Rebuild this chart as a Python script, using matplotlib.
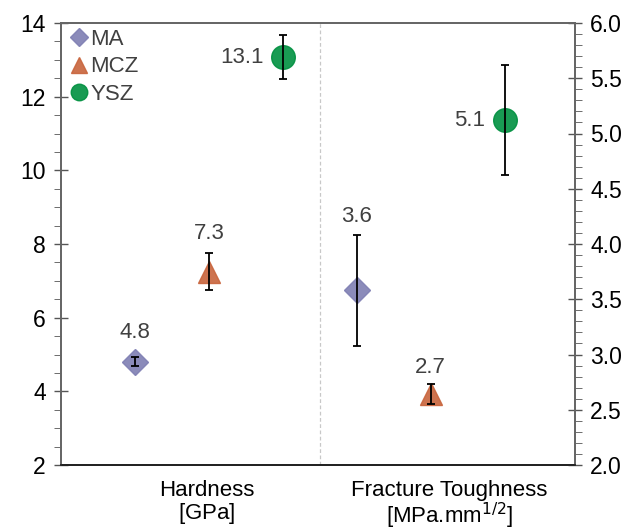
import numpy as np
import matplotlib.pyplot as plt
from matplotlib.ticker import MultipleLocator

materials = ['MA', 'MCZ', 'YSZ']
hardness = [4.8, 7.25, 13.07]
hardness_err = [0.12, 0.5, 0.6]
toughness = [3.58, 2.64, 5.12]
toughness_err = [0.5, 0.09, 0.5]
hardness_lbl = ['4.8', '7.3', '13.1']
toughness_lbl = ['3.6', '2.7', '5.1']
groups = ['Hardness\n[GPa]$^{\\,}$', 'Fracture Toughness\n[MPa.mm$^{1/2}$]']

colors = ['#7f7fb3', '#c8643c', '#009040']
markers = ['D', '^', 'o']
msizes = [13, 16, 17]
txt = '#404040'

plt.rcParams['font.family'] = ['Liberation Sans', 'DejaVu Sans']
plt.rcParams['font.size'] = 12

fig = plt.figure(figsize=(6.28, 5.30), dpi=100)
ax = fig.add_axes([61/628, 1-465/530, 514/628, 442/530])
ax2 = ax.twinx()

xh = np.array([1, 2, 3])
xt = np.array([4, 5, 6])

for i in range(3):
    ax.plot(xh[i], hardness[i], marker=markers[i], color=colors[i], ms=msizes[i],
            ls='none', alpha=0.9, zorder=2, label=materials[i])
    ax.errorbar(xh[i], hardness[i], yerr=hardness_err[i], fmt='none', ecolor='black',
                elinewidth=1.3, capsize=3, capthick=1.3, zorder=3)
    ax2.plot(xt[i], toughness[i], marker=markers[i], color=colors[i], ms=msizes[i],
             ls='none', alpha=0.9, zorder=2)
    ax2.errorbar(xt[i], toughness[i], yerr=toughness_err[i], fmt='none', ecolor='black',
                 elinewidth=1.3, capsize=3, capthick=1.3, zorder=3)

# value labels
vfs = 16
ax.annotate(hardness_lbl[0], (xh[0], hardness[0] + 0.5), ha='center', va='bottom', color=txt, fontsize=vfs)
ax.annotate(hardness_lbl[1], (xh[1], hardness[1] + hardness_err[1] + 0.25), ha='center', va='bottom', color=txt, fontsize=vfs)
ax.annotate(hardness_lbl[2], (xh[2] - 0.26, hardness[2]), ha='right', va='center', color=txt, fontsize=vfs)
ax2.annotate(toughness_lbl[0], (xt[0], toughness[0] + toughness_err[0] + 0.07), ha='center', va='bottom', color=txt, fontsize=vfs)
ax2.annotate(toughness_lbl[1], (xt[1], toughness[1] + toughness_err[1] + 0.06), ha='center', va='bottom', color=txt, fontsize=vfs)
ax2.annotate(toughness_lbl[2], (xt[2] - 0.26, toughness[2]), ha='right', va='center', color=txt, fontsize=vfs)

ax.axvline(3.5, color='#c8c8c8', ls='--', lw=0.9, dashes=(3, 2))

ax.set_xlim(0, 6.95)
ax.set_ylim(2, 14)
ax2.set_ylim(2, 6)
ax.set_xticks([1.97, 5.25])
ax.set_xticklabels(groups, fontsize=16)
ax.tick_params(axis='x', length=0, pad=11)
for lbl in ax.get_xticklabels():
    lbl.set_linespacing(1.0)

ax.yaxis.set_major_locator(MultipleLocator(2))
ax.yaxis.set_minor_locator(MultipleLocator(0.5))
ax2.yaxis.set_major_locator(MultipleLocator(0.5))
ax2.yaxis.set_minor_locator(MultipleLocator(0.1))
ax2.yaxis.set_major_formatter(plt.FormatStrFormatter('%.1f'))
ax.tick_params(axis='y', which='major', direction='inout', length=10, width=1, color='#555555', labelsize=16.5, pad=6)
ax.tick_params(axis='y', which='minor', direction='out', length=5, color='#555555')
ax2.tick_params(axis='y', which='major', direction='inout', length=10, width=1, color='#555555', labelsize=16.5, pad=6)
ax2.tick_params(axis='y', which='minor', direction='out', length=5, color='#555555')

for a in (ax, ax2):
    for s in a.spines.values():
        s.set_color('#666666')
        s.set_linewidth(1.3)
    a.spines['bottom'].set_color('#222222')

ax.legend(loc='upper left', bbox_to_anchor=(-0.004, 1.012), frameon=False, fontsize=16,
          handletextpad=0.1, handlelength=0.8, markerscale=0.7, labelspacing=0.3,
          borderaxespad=0.1, labelcolor=txt)

fig.savefig('out.png', dpi=100)
